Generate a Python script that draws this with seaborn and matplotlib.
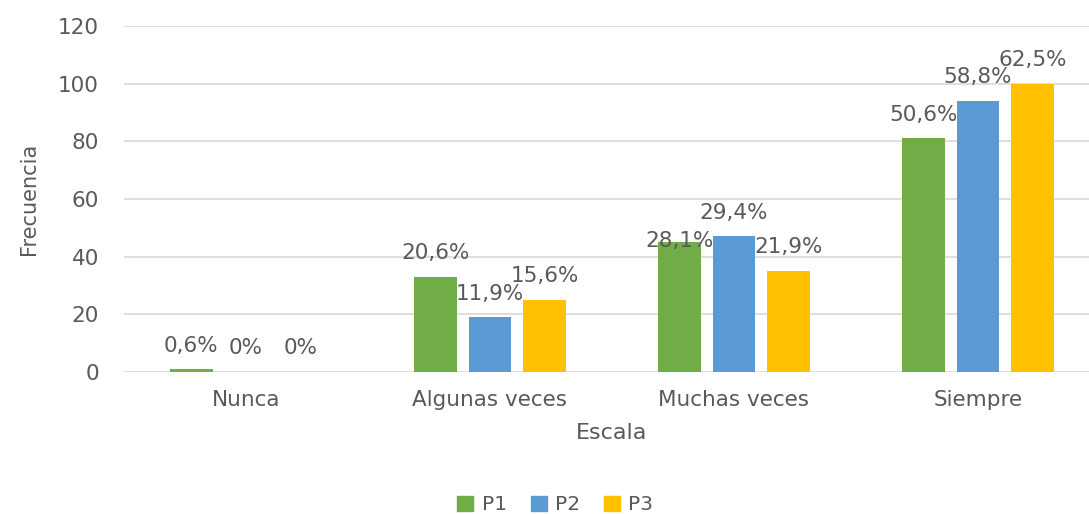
import matplotlib
matplotlib.use("Agg")
import matplotlib.pyplot as plt
import seaborn as sns
import pandas as pd

# data
categories = ["Nunca", "Algunas veces", "Muchas veces", "Siempre"]
series = ["P1", "P2", "P3"]
p1 = [1, 33, 45, 81]
p2 = [0, 19, 47, 94]
p3 = [0, 25, 35, 100]
labels_p1 = ["0,6%", "20,6%", "28,1%", "50,6%"]
labels_p2 = ["0%", "11,9%", "29,4%", "58,8%"]
labels_p3 = ["0%", "15,6%", "21,9%", "62,5%"]

colors = ["#70AD47", "#5B9BD5", "#FFC000"]
text_color = "#595959"

rows = []
for name, vals in zip(series, [p1, p2, p3]):
    for cat, v in zip(categories, vals):
        rows.append({"Escala": cat, "Serie": name, "Frecuencia": v})
df = pd.DataFrame(rows)

sns.set_style("white")
plt.rcParams["font.family"] = ["DejaVu Sans"]

fig = plt.figure(figsize=(10.89, 5.14), dpi=100)
ax = fig.add_axes([124 / 1089, 142 / 514, 976 / 1089, 346 / 514])

sns.barplot(data=df, x="Escala", y="Frecuencia", hue="Serie",
            order=categories, hue_order=series, palette=colors,
            saturation=1, width=0.675, gap=0.22, linewidth=0,
            ax=ax, legend=False)

ax.set_ylim(0, 120)
ax.set_xlim(-0.5, 3.5)
ax.set_yticks(range(0, 121, 20))
ax.yaxis.grid(True, color="#D9D9D9", linewidth=1.2)
ax.set_axisbelow(True)
for s in ax.spines.values():
    s.set_visible(False)
ax.tick_params(axis="both", length=0, colors=text_color, labelsize=15.5)
ax.tick_params(axis="y", pad=18)
ax.tick_params(axis="x", pad=13)

ax.set_xlabel("Escala", fontsize=16, color=text_color, labelpad=9)
ax.set_ylabel("Frecuencia", fontsize=15, color=text_color, labelpad=14)

# data labels; one label in the reference sits lower than the others
all_labels = [labels_p1, labels_p2, labels_p3]
for si, (cont, labs) in enumerate(zip(ax.containers, all_labels)):
    for ci, (bar, lab) in enumerate(zip(cont, labs)):
        dy = 17
        if si == 0 and ci == 2:
            dy = 1
        ax.annotate(lab, (bar.get_x() + bar.get_width() / 2, bar.get_height()),
                    xytext=(0, dy), textcoords="offset points",
                    ha="center", va="center", fontsize=15.5, color=text_color)

handles = [plt.Rectangle((0, 0), 1, 1, color=c) for c in colors]
fig.legend(handles, series, loc="center", bbox_to_anchor=(0.51, 0.018),
           ncol=3, frameon=False, fontsize=14.5, handlelength=0.8,
           handleheight=0.8, handletextpad=0.4, columnspacing=1.2,
           labelcolor=text_color)

fig.savefig("out.png", dpi=100)
